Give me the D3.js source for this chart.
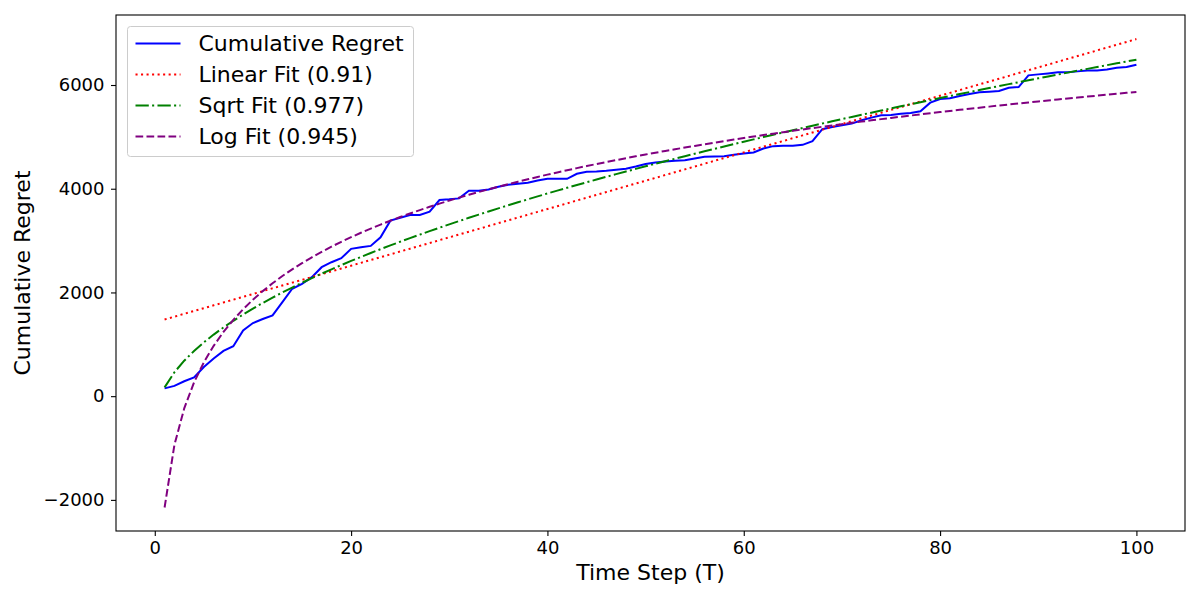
<!DOCTYPE html>
<html lang="en">
<head>
<meta charset="UTF-8">
<title>Cumulative Regret</title>
<script src="https://d3js.org/d3.v7.min.js"></script>
<style>
  body { margin: 0; background: #fff; }
  text { font-family: "DejaVu Sans", sans-serif; }
</style>
</head>
<body>
<div id="chart"></div>
<script>
// cumulative regret per time step (t = 1..100)
const steps = d3.range(1, 101);
const regret = [
  150, 198, 288, 360, 563, 725, 872, 962, 1269, 1410,
  1487, 1558, 1814, 2071, 2167, 2295, 2487, 2583, 2660, 2840,
  2871, 2898, 3064, 3385, 3440, 3494, 3494, 3557, 3782, 3795,
  3814, 3961, 3961, 3987, 4038, 4077, 4096, 4115, 4160, 4192,
  4192, 4192, 4288, 4327, 4333, 4346, 4365, 4385, 4429, 4478,
  4506, 4525, 4538, 4551, 4583, 4615, 4621, 4628, 4654, 4679,
  4698, 4775, 4821, 4827, 4827, 4846, 4917, 5148, 5192, 5225,
  5256, 5321, 5371, 5417, 5423, 5448, 5461, 5494, 5660, 5731,
  5744, 5788, 5827, 5859, 5871, 5884, 5948, 5961, 6186, 6205,
  6224, 6244, 6244, 6263, 6282, 6282, 6301, 6333, 6346, 6391
];
const legendLabels = ["Cumulative Regret", "Linear Fit (0.91)", "Sqrt Fit (0.977)", "Log Fit (0.945)"];
const xTicks = [0, 20, 40, 60, 80, 100];
const yTicks = [-2000, 0, 2000, 4000, 6000];

// least squares fit of regret against a transformed time step
function fit(transform) {
  const xs = steps.map(transform);
  const mx = d3.mean(xs), my = d3.mean(regret);
  let sxy = 0, sxx = 0;
  xs.forEach((x, i) => { sxy += (x - mx) * (regret[i] - my); sxx += (x - mx) * (x - mx); });
  const a = sxy / sxx, b = my - a * mx;
  return xs.map(x => a * x + b);
}
const linearFit = fit(t => t);
const sqrtFit = fit(t => Math.sqrt(t));
const logFit = fit(t => Math.log(t));

const width = 1200, height = 600;
const margin = { top: 15, right: 15, bottom: 69, left: 116 };

const svg = d3.select("#chart").append("svg")
  .attr("width", width).attr("height", height);

const x = d3.scaleLinear().domain([-3.95, 104.95]).range([margin.left, width - margin.right]);
const y = d3.scaleLinear().domain([-2600, 7350]).range([height - margin.bottom, margin.top]);

const series = [
  { values: regret, color: "blue", dash: null },
  { values: linearFit, color: "red", dash: "2.08,3.44" },
  { values: sqrtFit, color: "green", dash: "13.3,3.3,2.08,3.3" },
  { values: logFit, color: "purple", dash: "7.7,3.3" }
];

const line = d3.line().x((d, i) => x(steps[i])).y(d => y(d));

const plot = svg.append("g");
series.forEach(s => {
  plot.append("path")
    .datum(s.values)
    .attr("d", line)
    .attr("fill", "none")
    .attr("stroke", s.color)
    .attr("stroke-width", 2)
    .attr("stroke-dasharray", s.dash);
});

// axes
const xAxis = svg.append("g")
  .attr("transform", `translate(0,${height - margin.bottom})`)
  .call(d3.axisBottom(x).tickValues(xTicks).tickSize(5).tickPadding(5.5).tickFormat(d3.format("d")));
const yAxis = svg.append("g")
  .attr("transform", `translate(${margin.left},0)`)
  .call(d3.axisLeft(y).tickValues(yTicks).tickSize(5).tickPadding(6.5)
    .tickFormat(d => d < 0 ? "\u2212" + Math.abs(d) : d));
[xAxis, yAxis].forEach(g => {
  g.selectAll("text").attr("font-size", 18).attr("fill", "#000").attr("font-family", "DejaVu Sans");
  g.selectAll("line").attr("stroke", "#000").attr("stroke-width", 1.1);
  g.select(".domain").remove();
});

// frame
svg.append("rect")
  .attr("x", margin.left).attr("y", margin.top)
  .attr("width", width - margin.left - margin.right)
  .attr("height", height - margin.top - margin.bottom)
  .attr("fill", "none").attr("stroke", "#000").attr("stroke-width", 1.1);

svg.append("text")
  .attr("x", (margin.left + width - margin.right) / 2).attr("y", 580)
  .attr("text-anchor", "middle").attr("font-size", 22)
  .text("Time Step (T)");
svg.append("text")
  .attr("transform", `translate(30,${(margin.top + height - margin.bottom) / 2}) rotate(-90)`)
  .attr("text-anchor", "middle").attr("font-size", 22)
  .text("Cumulative Regret");

// legend
const legend = svg.append("g").attr("transform", "translate(127.5,26.5)");
legend.append("rect")
  .attr("width", 286).attr("height", 130).attr("rx", 3)
  .attr("fill", "#fff").attr("fill-opacity", 0.8)
  .attr("stroke", "#ccc").attr("stroke-width", 1);
legendLabels.forEach((label, i) => {
  const row = legend.append("g").attr("transform", `translate(0,${17 + i * 31})`);
  row.append("line")
    .attr("x1", 8).attr("x2", 53)
    .attr("stroke", series[i].color).attr("stroke-width", 2)
    .attr("stroke-dasharray", series[i].dash);
  row.append("text")
    .attr("x", 71).attr("dy", "0.35em")
    .attr("font-size", 22)
    .text(label);
});
</script>
</body>
</html>
